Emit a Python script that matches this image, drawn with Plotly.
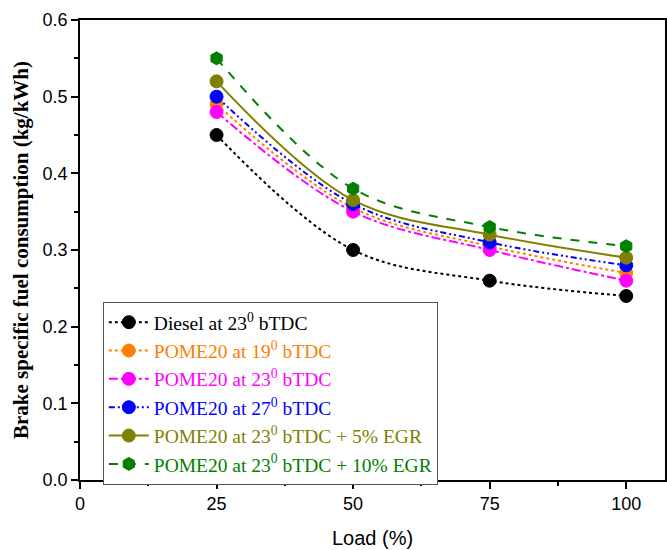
import plotly.graph_objects as go

loads = [25, 50, 75, 100]
diesel_23 = [0.45, 0.30, 0.26, 0.24]
pome20_19 = [0.49, 0.355, 0.305, 0.27]
pome20_23 = [0.48, 0.35, 0.30, 0.26]
pome20_27 = [0.50, 0.36, 0.31, 0.28]
pome20_23_egr5 = [0.52, 0.365, 0.32, 0.29]
pome20_23_egr10 = [0.55, 0.38, 0.33, 0.305]

series = [
    ("Diesel at 23<sup>0</sup> bTDC", diesel_23, "#000000", "dot", "circle"),
    ("POME20 at 19<sup>0</sup> bTDC", pome20_19, "#FF8000", "dot", "circle"),
    ("POME20 at 23<sup>0</sup> bTDC", pome20_23, "#FF00FF", "dashdot", "circle"),
    ("POME20 at 27<sup>0</sup> bTDC", pome20_27, "#0000FF", "6px,3px,2px,3px,2px,3px", "circle"),
    ("POME20 at 23<sup>0</sup> bTDC + 5% EGR", pome20_23_egr5, "#808000", "solid", "circle"),
    ("POME20 at 23<sup>0</sup> bTDC + 10% EGR", pome20_23_egr10, "#008000", "dash", "hexagon"),
]

fig = go.Figure()
for name, vals, col, dash, sym in series:
    fig.add_trace(go.Scatter(
        x=loads, y=vals, name=f'<span style="color:{col}">{name}</span>',
        mode="lines+markers",
        line=dict(color=col, dash=dash, width=2, shape="spline"),
        marker=dict(color=col, size=13, symbol=sym,
                    line=dict(color=col, width=1)),
    ))

fig.update_layout(
    width=667, height=550,
    margin=dict(l=80, r=0, t=20, b=70),
    plot_bgcolor="white", paper_bgcolor="white",
    showlegend=True,
    legend=dict(
        x=0.039, y=0.387, xanchor="left", yanchor="top",
        bordercolor="#555555", borderwidth=1, bgcolor="white",
        font=dict(family="Liberation Serif", size=19.5, color="black"),
        tracegroupgap=0, itemwidth=40,
    ),
    xaxis=dict(
        range=[0, 107.1], tickvals=[0, 25, 50, 75, 100],
        ticks="outside", ticklen=7, tickwidth=1.5, tickcolor="black",
        minor=dict(tickvals=[12.5, 37.5, 62.5, 87.5], ticks="outside", ticklen=4, tickcolor="black"),
        showline=True, linecolor="black", linewidth=1.5, mirror=True,
        showgrid=False, zeroline=False,
        tickfont=dict(family="Liberation Sans", size=18, color="black"),
        title=dict(text="Load (%)", font=dict(family="Liberation Sans", size=20, color="black"), standoff=18),
    ),
    yaxis=dict(
        range=[0, 0.6], tickvals=[0, 0.1, 0.2, 0.3, 0.4, 0.5, 0.6],
        tickformat=".1f",
        ticks="outside", ticklen=7, tickwidth=1.5, tickcolor="black",
        minor=dict(tickvals=[0.05, 0.15, 0.25, 0.35, 0.45, 0.55], ticks="outside", ticklen=4, tickcolor="black"),
        showline=True, linecolor="black", linewidth=1.5, mirror=True,
        showgrid=False, zeroline=False,
        tickfont=dict(family="Liberation Sans", size=18, color="black"),
        title=dict(text="<b>Brake specific fuel consumption (kg/kWh)</b>",
                   font=dict(family="Liberation Serif", size=21, color="black"), standoff=8),
    ),
)

fig.write_html("out.html")
